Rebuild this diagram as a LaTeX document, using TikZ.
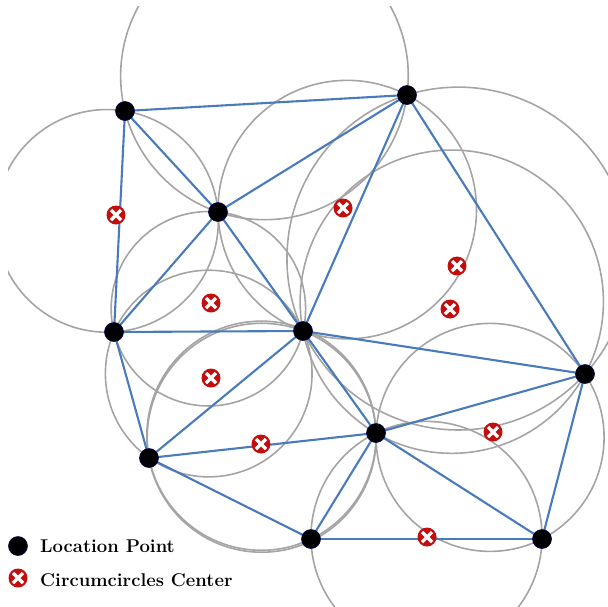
\documentclass[tikz,border=0pt]{standalone}
\usepackage{tikz}
\usetikzlibrary{calc}
\usepackage{xcolor}

\definecolor{edgeblue}{RGB}{72,122,188}
\definecolor{ringgray}{RGB}{164,164,164}
\definecolor{markred}{RGB}{196,14,14}

% circle through three named points
\newcommand{\ccircle}[3]{%
  \coordinate (m1) at ($(#1)!0.5!(#2)$);
  \coordinate (n1) at ($(m1)!1!90:(#2)$);
  \coordinate (m2) at ($(#2)!0.5!(#3)$);
  \coordinate (n2) at ($(m2)!1!90:(#3)$);
  \coordinate (cc) at (intersection of m1--n1 and m2--n2);
  \draw[ring] let \p1=($(cc)-(#1)$) in (cc) circle ({veclen(\x1,\y1)});
}

\begin{document}
\begin{tikzpicture}[x=1pt, y=-1pt,
    ring/.style={ringgray, line width=1.6pt},
    edge/.style={edgeblue, line width=2.1pt},
    locpt/.style={circle, fill=black, draw=blue!35!black, line width=0.6pt,
      minimum size=19pt, inner sep=0pt},
    ccenter/.style={circle, fill=markred, minimum size=19pt, inner sep=0pt,
      path picture={
        \draw[white, line width=3.2pt]
          ([shift={(-5,-5)}]path picture bounding box.center) --
          ([shift={(5,5)}]path picture bounding box.center);
        \draw[white, line width=3.2pt]
          ([shift={(-5,5)}]path picture bounding box.center) --
          ([shift={(5,-5)}]path picture bounding box.center);
      }},
    lbl/.style={font=\fontsize{18.5}{21}\selectfont\bfseries, anchor=base west,
      inner sep=0pt},
  ]

  \useasboundingbox (0,0) rectangle (608,606);

  % Location points
  \coordinate (A) at (125,111);
  \coordinate (B) at (407,95);
  \coordinate (C) at (218,212);
  \coordinate (D) at (114,332);
  \coordinate (E) at (303,331);
  \coordinate (F) at (585,374);
  \coordinate (G) at (376,433);
  \coordinate (H) at (149,458);
  \coordinate (I) at (311,539);
  \coordinate (J) at (542,539);

  % Circumcircles
  \begin{scope}
    \clip (8,6) rectangle (608,606);
    \foreach \a/\b/\c in {A/B/C, A/C/D, B/C/E, C/D/E, B/E/F, D/E/H,
                          E/G/H, E/F/G, G/H/I, G/I/J, F/G/J}
      {\ccircle{\a}{\b}{\c}}
  \end{scope}

  % Triangulation
  \foreach \a/\b in {A/B, A/C, A/D, B/C, B/E, B/F, C/D, C/E, D/E, D/H,
                     E/H, E/G, E/F, F/G, G/H, H/I, G/I, G/J, I/J, F/J}
    \draw[edge] (\a) -- (\b);

  \foreach \p in {A,...,J}
    \node[locpt] (pt\p) at (\p) {};

  % Centres
  \node[ccenter] (cACD) at (116,215) {};
  \node[ccenter] (cBCE) at (343,208) {};
  \node[ccenter] (cCDE) at (211,303) {};
  \node[ccenter] (cBEF) at (457,266) {};
  \node[ccenter] (cEFG) at (450,309) {};
  \node[ccenter] (cDEH) at (211,378) {};
  \node[ccenter] (cEGH) at (261,444) {};
  \node[ccenter] (cFGJ) at (493,432) {};
  \node[ccenter] (cGIJ) at (427,537) {};

  % Legend
  \node[locpt] (keypt) at (18,546) {};
  \node[lbl] (keyptlbl) at (40,552) {Location Point};
  \node[ccenter] (keycc) at (18,578) {};
  \node[lbl] (keycclbl) at (40,586) {Circumcircles Center};

\end{tikzpicture}
\end{document}
